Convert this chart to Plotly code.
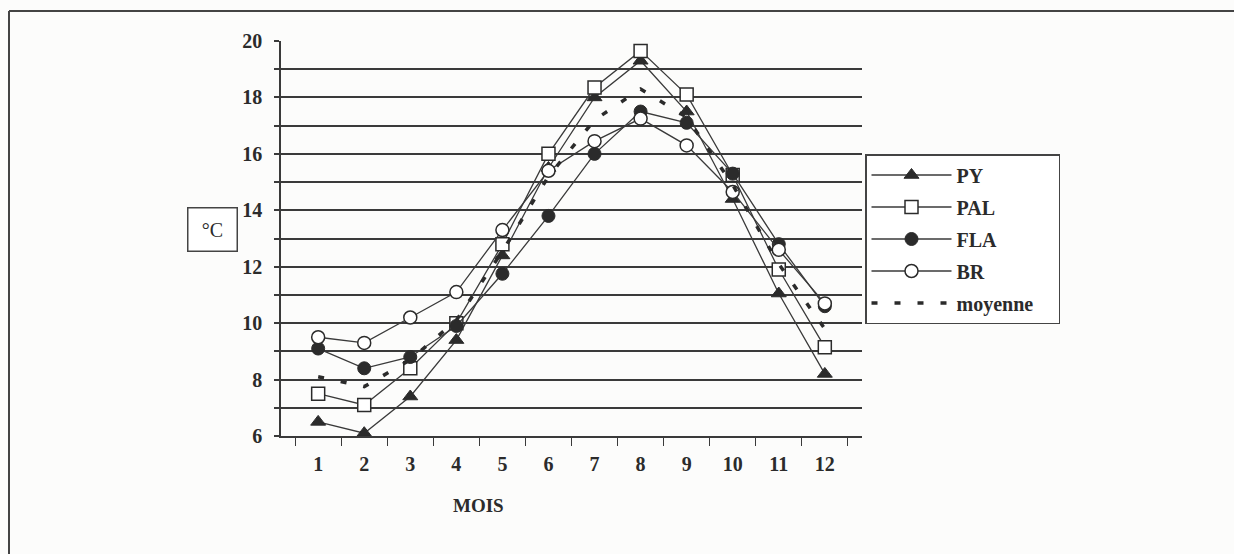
import plotly.graph_objects as go

# Monthly mean temperatures (°C) per station
months = ['1', '2', '3', '4', '5', '6', '7', '8', '9', '10', '11', '12']
py = [6.5, 6.1, 7.4, 9.4, 12.4, 15.5, 18.0, 19.3, 17.5, 14.4, 11.05, 8.2]
pal = [7.5, 7.1, 8.4, 10.0, 12.8, 16.0, 18.35, 19.65, 18.1, 15.25, 11.9, 9.15]
fla = [9.1, 8.4, 8.8, 9.9, 11.75, 13.8, 16.0, 17.5, 17.1, 15.3, 12.8, 10.6]
br = [9.5, 9.3, 10.2, 11.1, 13.3, 15.4, 16.45, 17.25, 16.3, 14.65, 12.6, 10.7]
moyenne = [8.1, 7.75, 8.7, 10.1, 12.55, 15.2, 17.2, 18.3, 17.3, 14.9, 12.1, 9.8]

y_ticks = list(range(6, 21))
y_ticktext = [str(v) if v % 2 == 0 else '' for v in y_ticks]

INK = '#2b2b2b'
LINE = '#3a3a3a'
SERIF = 'Liberation Serif, Times New Roman, serif'

W, H = 1234, 554
L, R, T, B = 281, 862, 41, 436  # plot area in pixels


def px(x):
    return (x - L) / (R - L)


def py_(y):
    return 1 - (y - T) / (B - T)


fig = go.Figure()

series = [
    ('PY', py, dict(symbol='triangle-up', size=13, color=INK, line=dict(width=1, color=INK))),
    ('PAL', pal, dict(symbol='square', size=13, color='white', line=dict(width=1.5, color=INK))),
    ('FLA', fla, dict(symbol='circle', size=13, color=INK, line=dict(width=1, color=INK))),
    ('BR', br, dict(symbol='circle', size=13, color='white', line=dict(width=1.5, color=INK))),
]
for name, vals, mk in series:
    fig.add_trace(go.Scatter(
        x=months, y=vals, name=name, legendgroup=name,
        mode='lines+markers',
        line=dict(color=LINE, width=1.3),
        marker=mk,
    ))

# non-breaking spaces pad the legend box out to its full width
fig.add_trace(go.Scatter(
    x=months, y=moyenne, name='moyenne\u00a0\u00a0\u00a0\u00a0', legendgroup='moyenne',
    mode='lines',
    line=dict(color=INK, width=3.5, dash='6px,17px'),
))

shapes = [
    # outer frame (top and left edges)
    dict(type='line', xref='paper', yref='paper',
         x0=px(9), x1=px(W), y0=py_(11), y1=py_(11),
         line=dict(color='#444', width=2)),
    dict(type='line', xref='paper', yref='paper',
         x0=px(9), x1=px(9), y0=py_(11), y1=py_(H),
         line=dict(color='#444', width=2)),
]

annotations = [
    dict(text='°C', xref='paper', yref='paper', x=px(212), y=py_(229),
         xanchor='center', yanchor='middle', showarrow=False,
         font=dict(family=SERIF, size=20, color=INK),
         bordercolor='#444', borderwidth=1.5, width=46, height=40, bgcolor='white'),
    dict(text='MOIS', xref='paper', yref='paper', x=px(478), y=py_(505),
         xanchor='center', yanchor='middle', showarrow=False,
         font=dict(family=SERIF, size=19, color=INK, weight='bold')),
]

fig.update_layout(
    width=W, height=H,
    margin=dict(l=L, r=W - R, t=T, b=H - B, pad=0),
    paper_bgcolor='#fcfcfb',
    plot_bgcolor='rgba(0,0,0,0)',
    showlegend=True,
    legend=dict(
        x=px(865), y=py_(154), xanchor='left', yanchor='top',
        bgcolor='white', bordercolor='#444', borderwidth=1.5,
        font=dict(family=SERIF, size=20, color=INK, weight='bold'),
        itemwidth=80, tracegroupgap=3, traceorder='grouped',
    ),
    shapes=shapes,
    annotations=annotations,
    xaxis=dict(
        type='category', categoryorder='array', categoryarray=months,
        tickson='boundaries', ticks='outside', ticklen=8, tickwidth=1.2, tickcolor=LINE,
        showgrid=False, showline=True, linecolor=LINE, linewidth=1.5,
        tickfont=dict(family=SERIF, size=20, color=INK, weight='bold'),
        ticklabelstandoff=9, zeroline=False, fixedrange=True,
    ),
    yaxis=dict(
        range=[6, 20], tickvals=y_ticks, ticktext=y_ticktext,
        ticks='outside', ticklen=5, tickwidth=1.5, tickcolor=LINE,
        showgrid=True, gridcolor=LINE, gridwidth=1.5,
        showline=True, linecolor=LINE, linewidth=1.5,
        tickfont=dict(family=SERIF, size=20, color=INK, weight='bold'),
        ticklabelstandoff=8, zeroline=False, fixedrange=True,
    ),
)

fig.write_html('out.html')
